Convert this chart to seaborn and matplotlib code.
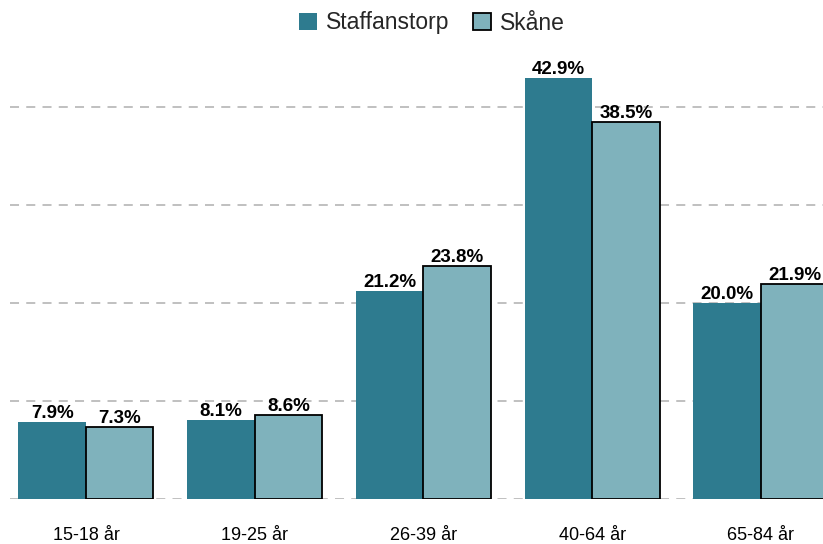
import matplotlib
matplotlib.use("Agg")
import matplotlib.pyplot as plt
import seaborn as sns
import pandas as pd
from matplotlib.patches import Patch

# data
age_groups = ["15-18 år", "19-25 år", "26-39 år", "40-64 år", "65-84 år"]
staffanstorp = [7.9, 8.1, 21.2, 42.9, 20.0]
skane = [7.3, 8.6, 23.8, 38.5, 21.9]
series_names = ["Staffanstorp", "Skåne"]
colors = ["#2e7b8f", "#7fb2bc"]

df = pd.DataFrame({
    "group": age_groups * 2,
    "value": staffanstorp + skane,
    "series": [series_names[0]] * len(age_groups) + [series_names[1]] * len(age_groups),
})

sns.set_theme(style="white")
plt.rcParams["font.family"] = ["Liberation Sans", "DejaVu Sans"]

W, H, DPI = 823, 544, 100
fig = plt.figure(figsize=(W / DPI, H / DPI), dpi=DPI)

# axes runs a bit past the right edge, like the reference crop
ax_left, ax_width = 10, 843.75
ax_bottom, ax_height = 544 - 499, 451
ax = fig.add_axes([ax_left / W, ax_bottom / H, ax_width / W, ax_height / H])

sns.barplot(data=df, x="group", y="value", hue="series", palette=colors,
            width=0.8, saturation=1, ax=ax, legend=False, zorder=3)

for cont, name in zip(ax.containers, series_names):
    for bar in cont:
        if name == "Skåne":
            bar.set_edgecolor("black")
            bar.set_linewidth(1.3)
        else:
            bar.set_linewidth(0)
    ax.bar_label(cont, labels=[f"{v:.1f}%" for v in cont.datavalues],
                 padding=0, fontsize=13.5, fontweight="bold", color="black")

ax.set_xlim(-0.45, 4.55)
ax.set_ylim(0, 46)
ax.set_yticks([0, 10, 20, 30, 40])
ax.set_yticklabels([])
ax.yaxis.grid(True, color="#bbbbbb", linestyle=(0, (5, 4)), linewidth=1.3, zorder=0)
ax.xaxis.grid(False)
ax.set_axisbelow(True)
for s in ax.spines.values():
    s.set_visible(False)
ax.tick_params(axis="x", length=0, pad=20, labelsize=13, labelcolor="black")
ax.tick_params(axis="y", length=0)
ax.set_xlabel("")
ax.set_ylabel("")

handles = [Patch(facecolor=colors[0], edgecolor="none"),
           Patch(facecolor=colors[1], edgecolor="black", linewidth=1.3)]
fig.legend(handles, series_names, loc="center", ncol=2, frameon=False,
           bbox_to_anchor=((ax_left + ax_width / 2) / W, 1 - 23 / H),
           fontsize=16.5, handlelength=0.8, handleheight=0.8,
           handletextpad=0.4, columnspacing=1.0)

fig.savefig("out.png", dpi=DPI)
